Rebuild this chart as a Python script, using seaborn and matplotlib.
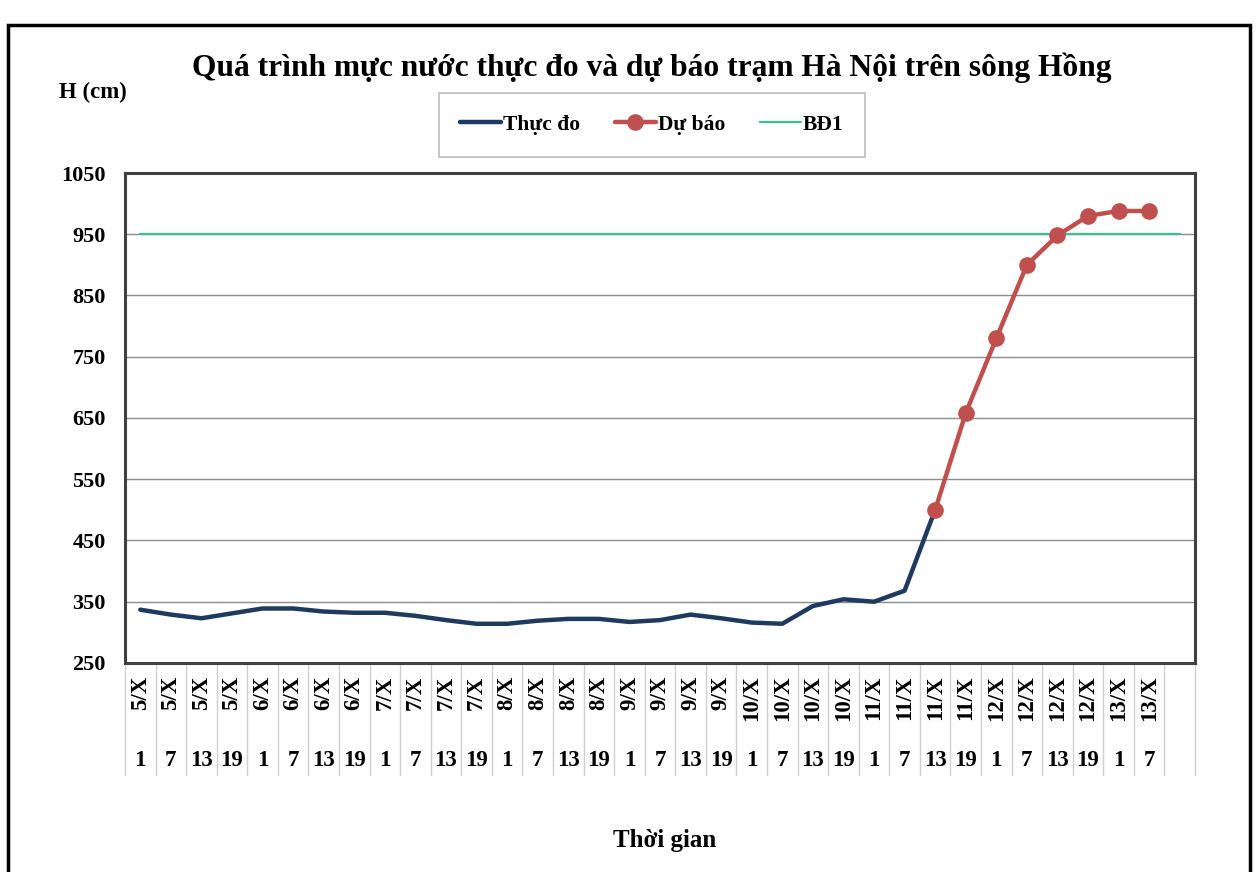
import numpy as np
import matplotlib
matplotlib.use("Agg")
import matplotlib.pyplot as plt
import matplotlib.transforms as mtransforms
import seaborn as sns

# categories: day / hour (last slot is empty)
days = ["5/X"] * 4 + ["6/X"] * 4 + ["7/X"] * 4 + ["8/X"] * 4 + ["9/X"] * 4 \
    + ["10/X"] * 4 + ["11/X"] * 4 + ["12/X"] * 4 + ["13/X"] * 2 + [""]
hours = ["1", "7", "13", "19"] * 8 + ["1", "7", ""]

# observed water level (cm), 5/X 1h -> 11/X 13h
thuc_do = [337, 329, 323, 331, 339, 339, 334, 332, 332, 327, 320, 314, 314, 319,
           322, 322, 317, 320, 329, 323, 316, 314, 343, 354, 350, 368, 500]
# forecast, 11/X 13h -> 13/X 7h
du_bao = [500, 658, 780, 900, 948, 980, 988, 988]
bd1 = 950  # alarm level 1

x_all = np.arange(len(days))
x_obs = x_all[:len(thuc_do)]
x_fc = x_all[len(thuc_do) - 1:len(thuc_do) - 1 + len(du_bao)]

sns.set_style("white")
plt.rcParams['font.family'] = ['Liberation Serif', 'DejaVu Serif']
plt.rcParams['font.weight'] = 'bold'
plt.rcParams['text.color'] = 'black'
plt.rcParams['xtick.color'] = 'black'
plt.rcParams['ytick.color'] = 'black'

fig = plt.figure(figsize=(12.57, 8.72), dpi=100)
ax = fig.add_axes([0.0994, 0.2397, 0.8513, 0.5619])

# gridlines
for v in range(350, 1050, 100):
    ax.axhline(v, color="#8c8c8c", lw=1.0, zorder=1)

sns.lineplot(x=x_all, y=[bd1] * len(x_all), ax=ax,
             color="#3fbf8c", lw=1.6, label="BĐ1", zorder=2)
sns.lineplot(x=x_obs, y=thuc_do, ax=ax, color="#1f3a60", lw=3.2,
             label="Thực đo", zorder=3)
sns.lineplot(x=x_fc, y=du_bao, ax=ax, color="#c0504d", lw=3.2, marker="o",
             markersize=12, markeredgewidth=0, label="Dự báo", zorder=4)

ax.set_xlim(-0.5, len(days) - 0.5)
ax.set_ylim(250, 1050)
ax.set_yticks(range(250, 1051, 100))
ax.tick_params(axis='y', length=0, pad=14, labelsize=16)
for lab in ax.get_yticklabels():
    lab.set_fontweight('bold')

# two-level category labels
ax.xaxis.remove_overlapping_locs = False
ax.set_xticks(x_all)
ax.set_xticklabels(days, rotation=90, fontsize=16.5, fontweight='bold', va='top')
ax.set_xticks(x_all, minor=True)
ax.set_xticklabels(hours, minor=True, fontsize=16.5, fontweight='bold')
ax.tick_params(axis='x', which='major', length=0, pad=9)
ax.tick_params(axis='x', which='minor', length=0, pad=63)

# category separators under the axis
trans = mtransforms.blended_transform_factory(ax.transData, ax.transAxes)
for b in np.arange(-0.5, len(days), 1.0):
    ax.plot([b, b], [0, -0.229], transform=trans, color="#cfcfcf", lw=1.0,
            clip_on=False, zorder=0)

for s in ax.spines.values():
    s.set_color("#404040")
    s.set_linewidth(2.2)

ax.set_xlabel("")
ax.set_ylabel("")

h, l = ax.get_legend_handles_labels()
order = [l.index("Thực đo"), l.index("Dự báo"), l.index("BĐ1")]
ax.get_legend().remove()
leg = fig.legend([h[i] for i in order], [l[i] for i in order], loc="center",
                 bbox_to_anchor=(0.5187, 0.8567), ncol=3, fancybox=False,
                 edgecolor="#bfbfbf", framealpha=1,
                 handlelength=1.9, handletextpad=0.1, columnspacing=1.6,
                 borderpad=1.0, prop={'weight': 'bold', 'size': 15.5})
leg.get_frame().set_linewidth(1.2)

fig.text(0.5187, 0.922, "Quá trình mực nước thực đo và dự báo trạm Hà Nội trên sông Hồng",
         ha="center", va="center", fontsize=22.7, fontweight='bold')
fig.text(0.074, 0.894, "H (cm)", ha="center", va="center", fontsize=16.5,
         fontweight='bold')
fig.text(0.529, 0.036, "Thời gian", ha="center", va="center", fontsize=18,
         fontweight='bold')

# outer chart frame
fig.add_artist(plt.Rectangle((0.0064, -0.01), 0.988, 0.9808, transform=fig.transFigure,
                             fill=False, edgecolor="black", lw=2.5))

fig.savefig("out.png", dpi=100)
